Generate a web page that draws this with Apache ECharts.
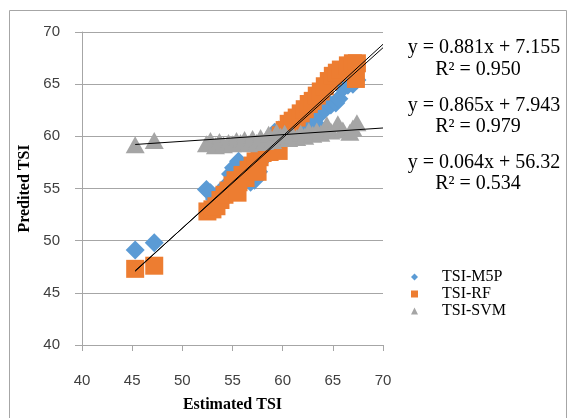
<!DOCTYPE html>
<html>
<head>
<meta charset="utf-8">
<script src="https://cdn.jsdelivr.net/npm/echarts@6/dist/echarts.min.js"></script>
<style>
  html, body { margin: 0; padding: 0; background: #fff; }
  #box { width: 577px; height: 418px; }
</style>
</head>
<body>
<div id="box"></div>
<script>
// 数据：TSI 估计值 vs 预测值
const m5pData = [
  [45.3, 49.1], [47.2, 49.8], [52.4, 54.9], [52.8, 54.6], [53.2, 54.0], [53.6, 54.5],
  [54.0, 53.8], [54.4, 55.3], [54.8, 56.4], [55.1, 57.0], [55.6, 57.6], [56.0, 56.5],
  [56.4, 55.8], [56.8, 55.6], [57.2, 55.8], [57.6, 56.6], [58.0, 57.8], [58.4, 58.4],
  [58.8, 59.2], [59.2, 60.4], [59.6, 60.6], [60.0, 60.2], [60.5, 60.9], [61.0, 61.4],
  [61.5, 60.8], [62.0, 61.6], [62.5, 61.3], [63.0, 61.4], [63.4, 61.1], [63.8, 62.2],
  [64.2, 62.6], [64.8, 63.0], [65.3, 63.2], [65.6, 63.6], [66.0, 64.6], [66.5, 64.9],
  [67.0, 65.0], [67.4, 65.4]
];
const rfData = [
  [45.3, 47.3], [47.2, 47.6], [52.5, 52.8], [53.0, 53.0], [53.4, 53.3], [53.8, 53.9],
  [54.2, 54.4], [54.6, 54.8], [55.0, 55.3], [55.3, 55.8], [55.6, 55.6], [56.0, 56.3],
  [56.3, 56.0], [56.6, 56.8], [57.0, 57.2], [57.3, 57.6], [57.7, 58.0], [58.0, 58.4],
  [58.4, 58.8], [58.7, 58.5], [59.0, 59.3], [59.4, 59.7], [59.8, 60.1], [60.2, 60.6],
  [60.6, 61.2], [61.0, 61.5], [61.4, 61.8], [61.8, 62.2], [62.2, 62.6], [62.6, 63.1],
  [63.0, 63.4], [63.4, 63.9], [63.8, 64.3], [64.2, 64.8], [64.6, 65.3], [65.0, 65.8],
  [65.4, 66.1], [65.8, 66.4], [66.5, 66.8], [67.0, 67.0], [67.4, 67.0], [67.3, 65.5],
  [55.5, 54.6], [57.5, 56.6], [59.6, 58.6]
];
const svmData = [
  [45.3, 59.2], [47.2, 59.6], [52.4, 59.3], [52.8, 59.6], [53.3, 59.1], [53.7, 59.5],
  [54.1, 59.2], [54.6, 59.4], [55.0, 59.3], [55.4, 59.6], [55.8, 59.4], [56.2, 59.7],
  [56.6, 59.3], [57.0, 59.8], [57.4, 59.4], [57.8, 59.9], [58.2, 59.5], [58.6, 60.2],
  [59.0, 59.6], [59.4, 60.4], [59.8, 60.0], [60.2, 60.3], [60.6, 59.8], [61.0, 60.1],
  [61.4, 59.9], [61.8, 60.3], [62.2, 60.0], [62.6, 60.5], [63.0, 60.2], [63.4, 60.5],
  [63.8, 60.3], [64.4, 61.1], [64.8, 60.5], [65.5, 61.2], [66.0, 60.6], [66.7, 60.4],
  [67.4, 61.3], [67.0, 60.8]
];
// 趋势线：[斜率, 截距, R²]
const m5pTrend = [0.881, 7.155, 0.950];
const rfTrend = [0.865, 7.943, 0.979];
const svmTrend = [0.064, 56.32, 0.534];
const trendRange = [45.3, 70];
const xTicks = [40, 70, 5];
const yTicks = [40, 70, 5];

const containerDom = document.getElementById('box');
const myChart = echarts.init(containerDom);

const trendLine = (t) => trendRange.map(x => [x, +(t[0] * x + t[1]).toFixed(3)]);
const eqText = (t, dec) => 'y = ' + t[0].toFixed(3) + 'x + ' + t[1].toFixed(dec);
const serif = 'Liberation Serif';
const eqFont = '20px "Liberation Serif"';

const lineSeries = (name, t) => ({
  name: name,
  type: 'line',
  data: trendLine(t),
  symbol: 'none',
  silent: true,
  z: 5,
  lineStyle: { color: '#000', width: 1 }
});

// 公式文字（居中）
const eqLabel = (text, x, y) => ({
  type: 'text',
  x: x, y: y,
  silent: true,
  style: { text: text, font: eqFont, fill: '#000', align: 'center', verticalAlign: 'middle' }
});

const option = {
  animation: false,
  backgroundColor: '#fff',
  grid: { left: 82, top: 32, right: 194, bottom: 69 },
  legend: {
    data: [
      { name: 'TSI-M5P', icon: 'diamond' },
      { name: 'TSI-RF', icon: 'path://M0,0L10,0L10,10L0,10Z' },
      { name: 'TSI-SVM', icon: 'triangle' }
    ],
    orient: 'vertical',
    left: 406,
    top: 264,
    itemWidth: 7,
    itemHeight: 7,
    itemGap: 1,
    itemStyle: { borderWidth: 0 },
    textStyle: { fontFamily: serif, fontSize: 16, lineHeight: 16, color: '#000', padding: [0, 0, 0, 19] }
  },
  xAxis: {
    type: 'value',
    min: xTicks[0], max: xTicks[1], interval: xTicks[2],
    name: 'Estimated TSI',
    nameLocation: 'middle',
    nameGap: 52,
    nameTextStyle: { fontFamily: serif, fontWeight: 'bold', fontSize: 16, color: '#000' },
    axisLine: { lineStyle: { color: '#a6a6a6' } },
    axisTick: { show: true, length: 6, lineStyle: { color: '#a6a6a6' } },
    axisLabel: { fontFamily: 'Liberation Sans', fontSize: 15, color: '#404040', margin: 28 },
    splitLine: { show: false }
  },
  yAxis: {
    type: 'value',
    min: yTicks[0], max: yTicks[1], interval: yTicks[2],
    name: 'Predited TSI',
    nameLocation: 'middle',
    nameGap: 44,
    nameTextStyle: { fontFamily: serif, fontWeight: 'bold', fontSize: 16, color: '#000' },
    axisLine: { show: true, lineStyle: { color: '#a6a6a6' } },
    axisTick: { show: true, length: 7, lineStyle: { color: '#a6a6a6' } },
    axisLabel: { fontFamily: 'Liberation Sans', fontSize: 15, color: '#404040', margin: 22 },
    splitLine: { show: true, lineStyle: { color: '#a6a6a6', width: 1 } }
  },
  graphic: [
    {
      type: 'rect',
      shape: { x: 9.5, y: 10.5, width: 557, height: 430 },
      style: { fill: 'none', stroke: '#a6a6a6', lineWidth: 1 },
      silent: true
    },
    eqLabel(eqText(m5pTrend, 3), 484, 48),
    eqLabel('R² = ' + m5pTrend[2].toFixed(3), 478, 70),
    eqLabel(eqText(rfTrend, 3), 484, 106),
    eqLabel('R² = ' + rfTrend[2].toFixed(3), 478, 127),
    eqLabel(eqText(svmTrend, 2), 484, 163),
    eqLabel('R² = ' + svmTrend[2].toFixed(3), 478, 184)
  ],
  series: [
    {
      name: 'TSI-M5P',
      type: 'scatter',
      data: m5pData,
      symbol: 'diamond',
      symbolSize: 19,
      itemStyle: { color: '#5b9bd5', opacity: 1 },
      z: 2
    },
    {
      name: 'TSI-RF',
      type: 'scatter',
      data: rfData,
      symbol: 'rect',
      symbolSize: 18,
      itemStyle: { color: '#ed7d31', opacity: 1 },
      z: 3
    },
    {
      name: 'TSI-SVM',
      type: 'scatter',
      data: svmData,
      symbol: 'triangle',
      symbolSize: [19, 17],
      itemStyle: { color: '#a5a5a5', opacity: 1 },
      z: 4
    },
    lineSeries('M5P trend', m5pTrend),
    lineSeries('RF trend', rfTrend),
    lineSeries('SVM trend', svmTrend)
  ]
};

myChart.setOption(option);
</script>
</body>
</html>
